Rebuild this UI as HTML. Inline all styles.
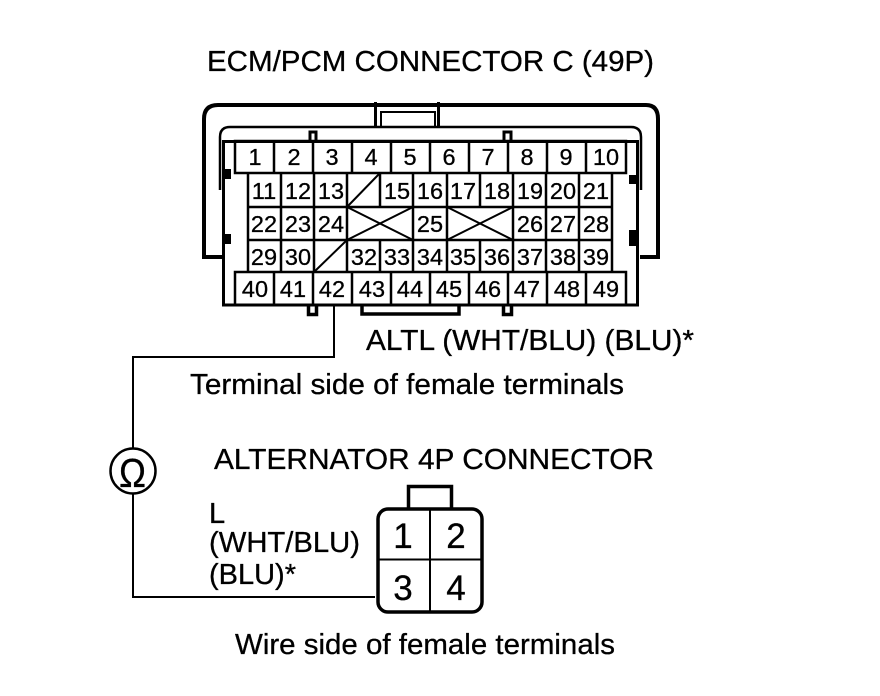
<!DOCTYPE html>
<html><head><meta charset="utf-8"><style>
html,body{margin:0;padding:0;background:#fff}
svg{display:block}
text{font-family:"Liberation Sans",sans-serif;fill:#000;stroke:#000;stroke-width:.3px}
.a{font-size:23.5px;text-anchor:middle}
.b{font-size:23.5px;text-anchor:middle}
.t{font-size:29px}
.n{font-size:35px;text-anchor:middle}
</style></head><body>
<svg width="880" height="696" viewBox="0 0 880 696" xmlns="http://www.w3.org/2000/svg">
<rect width="880" height="696" fill="#fff"/>
<text class="t" x="207" y="71" textLength="447" lengthAdjust="spacingAndGlyphs">ECM/PCM CONNECTOR C (49P)</text>
<g fill="none" stroke="#000">
<path stroke-width="4" d="M223 257H204V119Q204 105 218 105H646Q658 105 658 119V257H640"/>
<path stroke-width="3" d="M375.500 102V127M438.500 102V127"/>
<path stroke-width="2" d="M381 127V112H435V127"/>
<path stroke-width="2.500" d="M220 190V137Q220 127 230 127H631Q641 127 641 137V190"/>
<rect x="223.500" y="141.500" width="414" height="163.500" stroke-width="3" fill="#fff"/>
<rect x="235" y="141" width="391" height="32" stroke-width="2.500"/>
<rect x="235" y="272" width="391" height="33" stroke-width="2.500"/>
<path stroke-width="2.500" d="M274 141V173M313 141V173M352 141V173M391 141V173M430 141V173M469 141V173M508 141V173M547 141V173M586 141V173"/>
<path stroke-width="2.500" d="M274 272V305M313 272V305M352 272V305M391 272V305M430 272V305M469 272V305M508 272V305M547 272V305M586 272V305"/>
<path stroke-width="2.500" d="M248 173V272M612 173V272M248 207H612M248 240H612"/>
<path stroke-width="2.500" d="M281 173V272M314 173V272M347 173V272M380 173V207M380 240V272M413 173V272M447 173V272M480 173V207M480 240V272M513 173V272M546 173V272M579 173V272"/>
<path stroke-width="2" d="M347 207L380 173M314 272L347 240M347 207L413 240M347 240L413 207M447 207L513 240M447 240L513 207"/>
<path stroke-width="3" d="M310 141V132H316V141M504 141V132H511V141"/>
<path stroke-width="3.500" d="M308.500 305V314.500H316.500V305M503.500 305V314.500H511.500V305M362 305V314H459V305"/>
<path stroke-width="2" d="M334 305V357H133V449M133 494V597H375"/>
<circle cx="133" cy="471" r="22.500" stroke-width="2.500"/>
<path stroke-width="3.500" d="M408.500 508V486.500H451.500V508"/>
<rect x="378" y="509" width="104" height="103" rx="10" stroke-width="3.500" fill="#fff"/>
<path stroke-width="2" d="M430 509V612M378 559.500H482"/>
</g>
<g fill="#000">
<rect x="223" y="169" width="8" height="10"/>
<rect x="223" y="234" width="8" height="10"/>
<rect x="629" y="175" width="9" height="9"/>
<rect x="629" y="230" width="9" height="16"/>
</g>
<text class="a" x="255" y="165">1</text><text class="a" x="294" y="165">2</text><text class="a" x="332" y="165">3</text><text class="a" x="371" y="165">4</text><text class="a" x="410" y="165">5</text><text class="a" x="449" y="165">6</text><text class="a" x="488" y="165">7</text><text class="a" x="527" y="165">8</text><text class="a" x="566" y="165">9</text><text class="a" x="606" y="165">10</text>
<text class="a" x="255" y="297">40</text><text class="a" x="293" y="297">41</text><text class="a" x="332" y="297">42</text><text class="a" x="372" y="297">43</text><text class="a" x="410" y="297">44</text><text class="a" x="449" y="297">45</text><text class="a" x="488" y="297">46</text><text class="a" x="527" y="297">47</text><text class="a" x="567" y="297">48</text><text class="a" x="606" y="297">49</text>
<text class="b" x="264" y="199">11</text><text class="b" x="298" y="199">12</text><text class="b" x="331" y="199">13</text><text class="b" x="397" y="199">15</text><text class="b" x="430" y="199">16</text><text class="b" x="463" y="199">17</text><text class="b" x="497" y="199">18</text><text class="b" x="530" y="199">19</text><text class="b" x="563" y="199">20</text><text class="b" x="596" y="199">21</text>
<text class="b" x="264" y="232">22</text><text class="b" x="298" y="232">23</text><text class="b" x="331" y="232">24</text><text class="b" x="430" y="232">25</text><text class="b" x="530" y="232">26</text><text class="b" x="563" y="232">27</text><text class="b" x="596" y="232">28</text>
<text class="b" x="264" y="265">29</text><text class="b" x="298" y="265">30</text><text class="b" x="364" y="265">32</text><text class="b" x="397" y="265">33</text><text class="b" x="430" y="265">34</text><text class="b" x="463" y="265">35</text><text class="b" x="497" y="265">36</text><text class="b" x="530" y="265">37</text><text class="b" x="563" y="265">38</text><text class="b" x="596" y="265">39</text>
<text class="t" x="366" y="350" textLength="328" lengthAdjust="spacingAndGlyphs">ALTL (WHT/BLU) (BLU)*</text>
<text class="t" x="190" y="394" textLength="434" lengthAdjust="spacingAndGlyphs">Terminal side of female terminals</text>
<text class="t" x="214" y="469" textLength="440" lengthAdjust="spacingAndGlyphs">ALTERNATOR 4P CONNECTOR</text>
<text x="119" y="487" textLength="27" lengthAdjust="spacingAndGlyphs" style="font-size:41px">Ω</text>
<text class="t" x="209" y="523">L</text>
<text class="t" x="209" y="552" textLength="151" lengthAdjust="spacingAndGlyphs">(WHT/BLU)</text>
<text class="t" x="209" y="584" textLength="87" lengthAdjust="spacingAndGlyphs">(BLU)*</text>
<text class="n" x="403" y="548">1</text>
<text class="n" x="456" y="548">2</text>
<text class="n" x="403" y="600">3</text>
<text class="n" x="456" y="600">4</text>
<text class="t" x="235" y="654" textLength="380" lengthAdjust="spacingAndGlyphs">Wire side of female terminals</text>
</svg>
</body></html>
